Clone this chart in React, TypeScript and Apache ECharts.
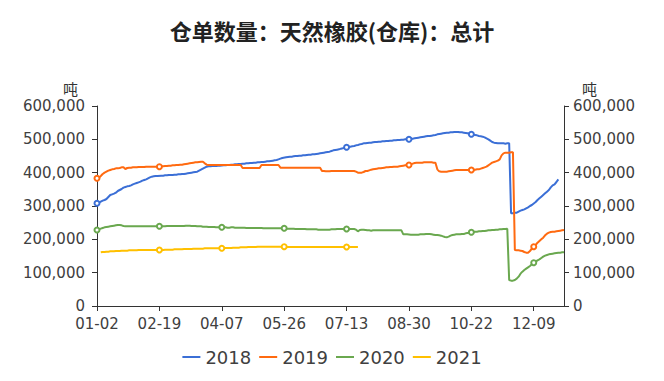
import React, { useEffect, useRef } from 'react';
import * as echarts from 'echarts';

const titleText = '仓单数量：天然橡胶(仓库)：总计';
const unitName = '吨';
const seriesNames = ['2018', '2019', '2020', '2021'];
const seriesColors = ['#3b6fd6', '#ff6a10', '#6aa84f', '#ffc000'];

const categories = [
  '01-02','01-03','01-04','01-07','01-08','01-09','01-10','01-11','01-14','01-15',
  '01-16','01-17','01-18','01-21','01-22','01-23','01-24','01-25','01-28','01-29',
  '01-30','01-31','02-01','02-04','02-06','02-07','02-08','02-11','02-12','02-13',
  '02-14','02-15','02-18','02-19',
  '02-20','02-21','02-22','02-25','02-26','02-27','02-28','03-01','03-04','03-05',
  '03-06','03-07','03-08','03-11','03-12','03-13','03-14','03-15','03-18','03-19',
  '03-20','03-21','03-22','03-25','03-26','03-27','03-28','03-29','04-01','04-02',
  '04-03','04-04','04-07',
  '04-08','04-09','04-10','04-11','04-12','04-15','04-16','04-17','04-18','04-19',
  '04-22','04-23','04-24','04-25','04-26','04-29','04-30','05-06','05-07','05-08',
  '05-09','05-10','05-13','05-14','05-15','05-16','05-17','05-20','05-21','05-22',
  '05-23','05-24','05-26',
  '05-27','05-28','05-29','05-30','05-31','06-03','06-04','06-05','06-06','06-10',
  '06-11','06-12','06-13','06-14','06-17','06-18','06-19','06-20','06-21','06-24',
  '06-25','06-26','06-27','06-28','07-01','07-02','07-03','07-04','07-05','07-08',
  '07-09','07-10','07-13',
  '07-14','07-15','07-16','07-17','07-20','07-21','07-22','07-23','07-24','07-27',
  '07-28','07-29','07-30','07-31','08-03','08-04','08-05','08-06','08-07','08-10',
  '08-11','08-12','08-13','08-14','08-17','08-18','08-19','08-20','08-21','08-24',
  '08-25','08-26','08-30',
  '08-31','09-01','09-02','09-03','09-04','09-07','09-08','09-09','09-10','09-11',
  '09-14','09-15','09-16','09-17','09-18','09-21','09-22','09-23','09-24','09-25',
  '09-28','09-29','09-30','10-09','10-12','10-13','10-14','10-15','10-16','10-19',
  '10-20','10-21','10-22',
  '10-23','10-26','10-27','10-28','10-29','10-30','11-02','11-03','11-04','11-05',
  '11-06','11-09','11-10','11-11','11-12','11-13','11-16','11-17','11-18','11-19',
  '11-20','11-23','11-24','11-25','11-26','11-27','11-30','12-01','12-02','12-03',
  '12-04','12-07','12-09',
  '12-10','12-11','12-14','12-15','12-16','12-17','12-18','12-21','12-22','12-23',
  '12-24','12-25','12-28','12-29','12-30','12-31',
];

const values2018 = [
  308000,310000,313000,316000,318000,321000,327000,333000,335000,337000,
  340000,345000,348000,351000,355000,357000,359000,360000,362000,365000,
  367000,369000,371000,373000,376000,378000,380000,383000,386000,388000,
  389000,390000,390000,null,391000,391000,392000,392000,393000,393000,
  393000,394000,394000,395000,395000,396000,396000,397000,398000,399000,
  400000,401000,402000,403000,406000,409000,412000,415000,418000,419000,
  419000,420000,420000,420000,421000,421000,null,422000,422000,423000,
  423000,424000,424000,425000,425000,426000,426000,427000,427000,428000,
  428000,429000,429000,430000,430000,431000,431000,432000,432000,433000,
  434000,434000,435000,436000,437000,438000,440000,442000,444000,null,
  446000,447000,448000,448000,449000,450000,450000,451000,451000,452000,
  452000,453000,454000,454000,455000,455000,456000,457000,458000,459000,
  460000,461000,462000,463000,465000,467000,468000,469000,470000,472000,
  473000,475000,476000,477000,478000,479000,480000,482000,483000,485000,
  486000,488000,488000,489000,490000,490000,491000,492000,492000,493000,
  493000,494000,494000,495000,495000,496000,496000,497000,497000,498000,
  498000,499000,499000,500000,500000,500000,501000,502000,503000,504000,
  505000,506000,507000,508000,509000,510000,510000,511000,512000,513000,
  515000,516000,517000,518000,519000,520000,520000,521000,521000,522000,
  522000,522000,521000,521000,520000,519000,518000,517000,515000,514000,
  513000,512000,510000,509000,508000,506000,503000,500000,496000,492000,
  490000,489000,488000,488000,488000,488000,487000,488000,488000,278000,
  278000,280000,280000,283000,286000,288000,290000,293000,296000,300000,
  303000,null,312000,318000,323000,328000,333000,338000,343000,348000,
  356000,362000,365000,372000,380000,
];

const values2019 = [
  383000,385000,390000,396000,400000,403000,406000,408000,410000,411000,
  413000,413000,414000,416000,416000,411000,414000,415000,415000,416000,
  416000,416000,417000,417000,417000,417000,418000,418000,418000,418000,
  418000,418000,418000,418000,419000,419000,420000,420000,421000,421000,
  422000,422000,423000,423000,424000,424000,425000,426000,427000,428000,
  429000,430000,431000,431000,432000,433000,433000,428000,424000,423000,
  423000,423000,423000,423000,423000,423000,null,423000,423000,423000,
  423000,423000,423000,423000,423000,423000,423000,414000,414000,414000,
  414000,414000,414000,414000,414000,414000,414000,423000,423000,423000,
  423000,423000,423000,423000,423000,423000,423000,415000,415000,null,
  415000,415000,415000,415000,415000,415000,415000,415000,415000,415000,
  415000,415000,415000,415000,415000,415000,415000,415000,415000,405000,
  405000,404000,404000,404000,405000,405000,405000,405000,405000,405000,
  405000,405000,null,405000,405000,405000,405000,403000,400000,400000,
  400000,402000,405000,405000,407000,409000,410000,411000,412000,413000,
  413000,414000,415000,416000,416000,417000,417000,418000,418000,418000,
  419000,420000,421000,422000,422000,423000,425000,427000,429000,430000,
  430000,430000,430000,431000,431000,431000,431000,431000,430000,430000,
  410000,404000,403000,403000,403000,403000,404000,405000,406000,407000,
  408000,408000,408000,408000,408000,408000,408000,408000,408000,408000,
  409000,410000,410000,412000,414000,416000,418000,422000,426000,430000,
  432000,434000,436000,440000,452000,458000,460000,460000,460000,461000,
  461000,168000,167000,167000,166000,165000,162000,160000,160000,165000,
  172000,178000,183000,190000,195000,200000,205000,212000,217000,220000,
  222000,223000,223000,224000,225000,226000,227000,228000,
];

const values2020 = [
  228000,230000,232000,234000,236000,237000,238000,239000,240000,241000,
  242000,243000,243000,242000,240000,239000,239000,239000,239000,239000,
  239000,239000,239000,239000,239000,239000,239000,239000,239000,239000,
  239000,239000,239000,239000,239000,239000,239000,240000,240000,240000,
  240000,240000,240000,240000,240000,240000,240000,241000,241000,241000,
  240000,240000,240000,239000,239000,239000,238000,238000,238000,237000,
  237000,237000,237000,236000,236000,236000,236000,236000,236000,235000,
  235000,236000,236000,235000,235000,235000,235000,235000,235000,234000,
  234000,234000,234000,234000,234000,234000,234000,234000,233000,233000,
  233000,233000,233000,233000,233000,233000,233000,233000,233000,233000,
  232000,232000,232000,232000,232000,231000,231000,231000,231000,231000,
  231000,230000,230000,230000,230000,230000,230000,229000,229000,229000,
  229000,229000,229000,229000,230000,230000,230000,231000,231000,231000,
  231000,231000,231000,231000,231000,231000,231000,229000,224000,228000,
  229000,229000,228000,227000,227000,226000,227000,227000,227000,227000,
  227000,227000,227000,227000,227000,227000,227000,227000,227000,227000,
  227000,227000,215000,215000,215000,null,214000,214000,214000,214000,
  214000,215000,215000,215000,216000,216000,216000,215000,214000,213000,
  213000,212000,211000,209000,207000,206000,208000,211000,213000,214000,
  215000,215000,215000,216000,216000,218000,219000,220000,221000,222000,
  223000,223000,224000,224000,225000,225000,226000,227000,227000,228000,
  228000,229000,229000,230000,230000,231000,231000,232000,78000,76000,
  76000,78000,82000,88000,97000,103000,108000,112000,116000,120000,
  125000,130000,133000,137000,140000,144000,148000,151000,153000,155000,
  156000,157000,158000,159000,160000,160000,161000,161000,
];

const values2021 = [
  null,null,161000,162000,162000,163000,163000,164000,164000,164000,
  165000,165000,165000,166000,166000,166000,166000,167000,167000,167000,
  167000,167000,168000,168000,168000,168000,168000,168000,168000,168000,
  168000,168000,168000,168000,168000,168000,169000,169000,169000,169000,
  169000,170000,170000,170000,170000,170000,171000,171000,171000,171000,
  171000,172000,172000,172000,172000,172000,172000,173000,173000,173000,
  173000,173000,173000,173000,173000,173000,173000,173000,174000,174000,
  174000,174000,175000,175000,175000,175000,176000,176000,176000,176000,
  177000,177000,177000,177000,177000,178000,178000,178000,178000,178000,
  178000,178000,178000,178000,178000,178000,178000,178000,178000,178000,
  177000,177000,177000,177000,177000,177000,177000,177000,177000,177000,
  177000,177000,177000,177000,177000,177000,177000,177000,177000,177000,
  177000,177000,177000,177000,177000,177000,177000,177000,177000,177000,
  177000,177000,177000,177000,177000,177000,177000,177000,177000,
];

const seriesValues = [values2018, values2019, values2020, values2021];

const yMin = 0;
const yMax = 600000;
const yInterval = 100000;
const labelEvery = 32;

const addCommas = (v: number) => String(v).replace(/\B(?=(\d{3})+(?!\d))/g, ',');

export default function App() {
  const ref = useRef<HTMLDivElement>(null);

  useEffect(() => {
    if (!ref.current) return;
    const chart = echarts.init(ref.current, undefined, { renderer: 'svg' });
    const axisText = {
      color: '#404040',
      fontSize: 15,
      lineHeight: 15,
      fontFamily: 'DejaVu Sans',
    };
    const yAxisBase = {
      type: 'value',
      min: yMin,
      max: yMax,
      interval: yInterval,
      splitLine: { show: false },
      axisLine: { show: true, lineStyle: { color: '#333', width: 1 } },
      axisTick: { show: true, length: 5, lineStyle: { color: '#333' } },
      nameLocation: 'end',
      nameGap: 10,
    };
    chart.setOption({
      animation: false,
      backgroundColor: '#ffffff',
      title: {
        text: titleText,
        left: 'center',
        top: 14,
        textStyle: {
          fontSize: 22,
          fontWeight: 'bold',
          color: '#222',
          fontFamily: 'Noto Sans CJK SC',
        },
      },
      legend: {
        data: seriesNames,
        bottom: 10,
        left: 'center',
        icon: 'rect',
        itemWidth: 18,
        itemHeight: 2,
        itemGap: 8,
        textStyle: { color: '#404040', fontSize: 18, fontFamily: 'DejaVu Sans' },
      },
      grid: { left: 97, right: 100, top: 106, bottom: 75, containLabel: false },
      xAxis: {
        type: 'category',
        data: categories,
        boundaryGap: false,
        axisLine: { show: true, lineStyle: { color: '#333' } },
        axisTick: { show: true, interval: labelEvery, length: 5, lineStyle: { color: '#333' } },
        axisLabel: { ...axisText, interval: labelEvery, margin: 10 },
        splitLine: { show: false },
      },
      yAxis: [
        {
          ...yAxisBase,
          position: 'left',
          name: unitName,
          nameTextStyle: {
            fontSize: 15,
            color: '#333',
            fontFamily: 'Noto Sans CJK SC',
            align: 'right',
            padding: [0, 19, 0, 0],
          },
          axisLabel: { ...axisText, margin: 12, formatter: (v: number) => addCommas(v) },
        },
        {
          ...yAxisBase,
          position: 'right',
          name: unitName,
          nameTextStyle: {
            fontSize: 15,
            color: '#333',
            fontFamily: 'Noto Sans CJK SC',
            align: 'left',
            padding: [0, 0, 0, 18],
          },
          axisLabel: { ...axisText, margin: 9, formatter: (v: number) => addCommas(v) },
        },
      ],
      series: seriesNames.map((name, i) => ({
        name,
        type: 'line',
        yAxisIndex: 0,
        data: seriesValues[i],
        connectNulls: true,
        symbol: 'emptyCircle',
        symbolSize: 5,
        showAllSymbol: 'auto',
        lineStyle: { width: 2, color: seriesColors[i] },
        itemStyle: { color: seriesColors[i], borderWidth: 1.5 },
        emphasis: { disabled: true },
      })),
    });
    return () => chart.dispose();
  }, []);

  return (
    <div
      ref={ref}
      style={{ position: 'absolute', left: 0, top: 0, width: 664, height: 381 }}
    />
  );
}
